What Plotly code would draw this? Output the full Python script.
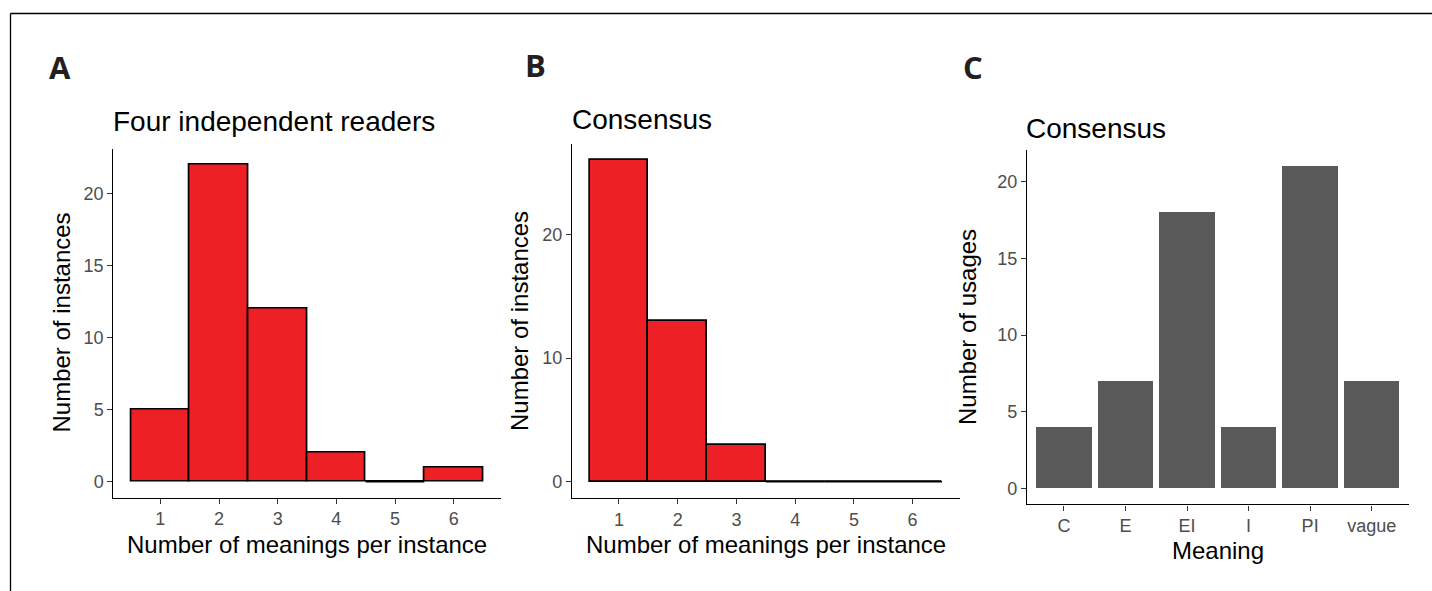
import plotly.graph_objects as go

# ---------------- data ----------------
meanings_per_instance = [1, 2, 3, 4, 5, 6]
readers_counts = [5, 22, 12, 2, 0, 1]          # panel A: four independent readers
consensus_counts = [26, 13, 3, 0, 0, 0]        # panel B: consensus
meaning_categories = ["C", "E", "EI", "I", "PI", "vague"]
meaning_counts = [4, 7, 18, 4, 21, 7]          # panel C: consensus usages

ticks_a = [0, 5, 10, 15, 20]
ticks_b = [0, 10, 20]
ticks_c = [0, 5, 10, 15, 20]

# ---------------- style ----------------
W, H = 1432, 591
FONT = "Liberation Sans, Arial, Helvetica, sans-serif"
BOLD_FONT = "Open Sans, Liberation Sans, Arial, sans-serif"
RED = "#ED2125"
GREY_BAR = "#595959"
TICK_COLOR = "#4D4D4D"


def px_x(p):
    return p / W


def px_y(p):
    return 1 - p / H


def expand(lo, hi, frac=0.05):
    r = hi - lo
    return [lo - r * frac, hi + r * frac]


fig = go.Figure()

# ---- panel A & B histograms ----
for counts, xa, ya in [(readers_counts, "x", "y"), (consensus_counts, "x2", "y2")]:
    fig.add_trace(go.Bar(
        x=meanings_per_instance, y=counts, width=1,
        marker=dict(color=RED, line=dict(color="black", width=1.7)),
        xaxis=xa, yaxis=ya, showlegend=False, hoverinfo="x+y",
    ))
    # zero-height bins are still drawn as a flat outline (as ggplot does)
    for m, c in zip(meanings_per_instance, counts):
        if c == 0:
            fig.add_trace(go.Scatter(
                x=[m - 0.5, m + 0.5], y=[c, c], mode="lines",
                line=dict(color="black", width=1.7),
                xaxis=xa, yaxis=ya, showlegend=False, hoverinfo="skip",
            ))

# ---- panel C bars ----
fig.add_trace(go.Bar(
    x=meaning_categories, y=meaning_counts, width=0.9,
    marker=dict(color=GREY_BAR, line=dict(width=0)),
    xaxis="x3", yaxis="y3", showlegend=False,
))

axis_common = dict(
    showline=True, linecolor="black", linewidth=1.3,
    ticks="outside", ticklen=5, tickwidth=1.1, tickcolor="#333333",
    showgrid=False, zeroline=False,
    tickfont=dict(family=FONT, size=18, color=TICK_COLOR),
    fixedrange=True,
)

hist_x = expand(meanings_per_instance[0] - 0.5, meanings_per_instance[-1] + 0.5)

fig.update_layout(
    width=W, height=H,
    margin=dict(l=0, r=0, t=0, b=0),
    paper_bgcolor="white", plot_bgcolor="white",
    bargap=0,
    xaxis=dict(axis_common, domain=[px_x(113.4), px_x(500.6)], anchor="y",
               range=hist_x, tickmode="array", tickvals=meanings_per_instance),
    yaxis=dict(axis_common, domain=[px_y(497.6), px_y(148.6)], anchor="x",
               range=expand(0, max(readers_counts)), tickmode="array", tickvals=ticks_a),
    xaxis2=dict(axis_common, domain=[px_x(572), px_x(959.6)], anchor="y2",
                range=hist_x, tickmode="array", tickvals=meanings_per_instance),
    yaxis2=dict(axis_common, domain=[px_y(497.8), px_y(144.0)], anchor="x2",
                range=expand(0, max(consensus_counts)), tickmode="array", tickvals=ticks_b),
    xaxis3=dict(axis_common, domain=[px_x(1027), px_x(1408.6)], anchor="y3",
                type="category", range=[-0.6, len(meaning_categories) - 0.4]),
    yaxis3=dict(axis_common, domain=[px_y(504.4), px_y(150.3)], anchor="x3",
                range=expand(0, max(meaning_counts)), tickmode="array", tickvals=ticks_c),
)

annotations = []


def add_text(text, x, y, size, xanchor="left", angle=0, bold=False, color="black"):
    annotations.append(dict(
        text=text, x=px_x(x), y=px_y(y), xref="paper", yref="paper",
        xanchor=xanchor, yanchor="middle", showarrow=False, textangle=angle,
        font=dict(family=BOLD_FONT if bold else FONT, size=size, color=color),
        borderpad=0,
    ))


# panel letters
add_text("<b>A</b>", 48, 67, 31, bold=True, color="#231F20")
add_text("<b>B</b>", 524, 65, 31, bold=True, color="#231F20")
add_text("<b>C</b>", 962, 67, 31, bold=True, color="#231F20")

# panel titles
add_text("Four independent readers", 112, 121, 28)
add_text("Consensus", 571, 119.5, 28)
add_text("Consensus", 1025, 128.5, 28)

# axis titles
add_text("Number of meanings per instance", 307, 544.5, 24, xanchor="center")
add_text("Number of meanings per instance", 765.8, 544.5, 24, xanchor="center")
add_text("Meaning", 1217.8, 550.5, 24, xanchor="center")
add_text("Number of instances", 60.5, 323, 24, xanchor="center", angle=-90)
add_text("Number of instances", 519, 321, 24, xanchor="center", angle=-90)
add_text("Number of usages", 967, 327, 24, xanchor="center", angle=-90)

fig.update_layout(annotations=annotations)

# figure border (top and left edges of the frame)
fig.add_shape(type="line", xref="paper", yref="paper",
              x0=px_x(10.5), x1=1, y0=px_y(13.5), y1=px_y(13.5),
              line=dict(color="black", width=1.3))
fig.add_shape(type="line", xref="paper", yref="paper",
              x0=px_x(10.5), x1=px_x(10.5), y0=px_y(13.5), y1=0,
              line=dict(color="black", width=1.3))

fig.write_html(
    "out.html",
    config={"displayModeBar": False},
    post_script="document.body.style.margin='0';document.body.style.overflow='hidden';",
)
